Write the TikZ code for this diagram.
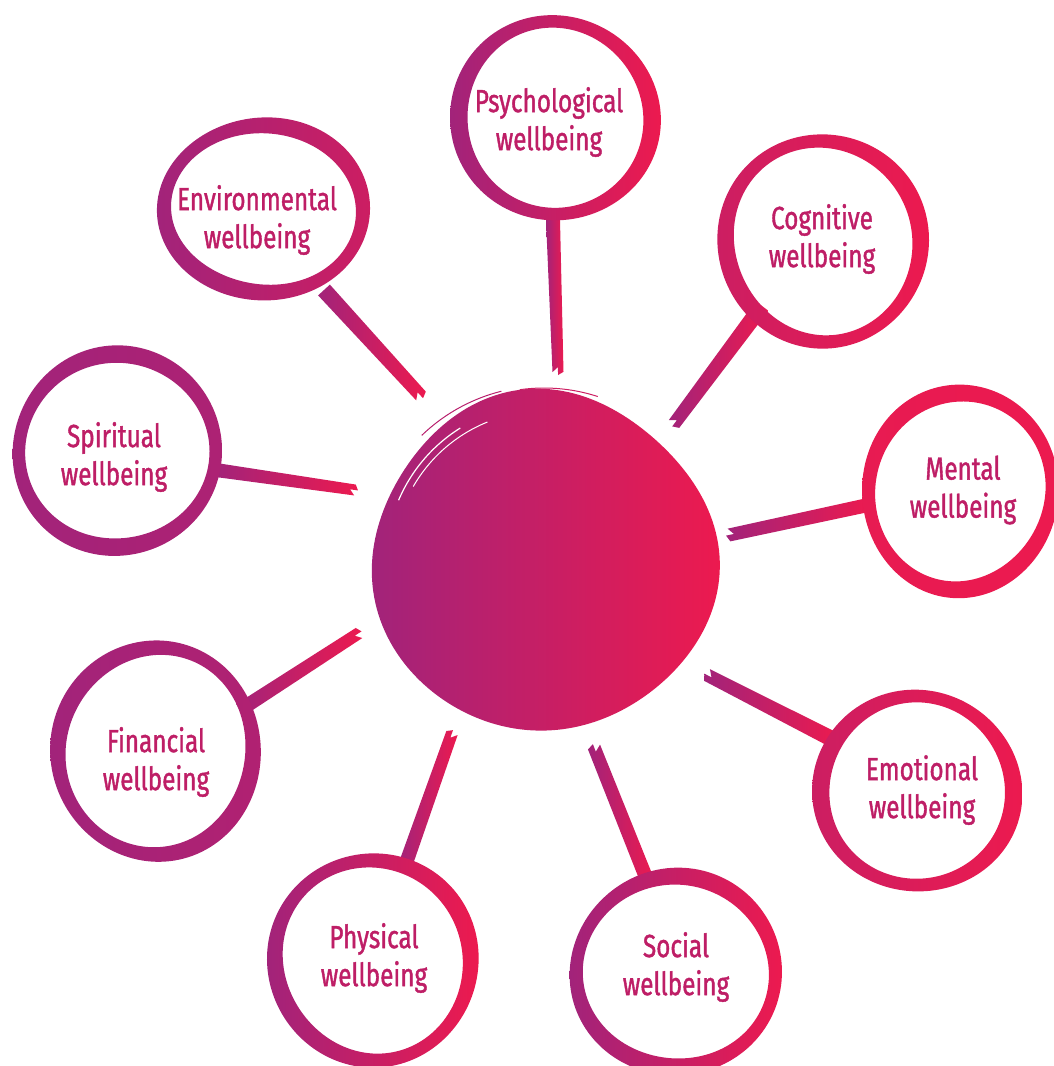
\documentclass[tikz,border=0pt]{standalone}
\usepackage{fontspec}
\newfontfamily\hand[FakeStretch=0.76,FakeBold=1.2]{Fira Sans}
\usetikzlibrary{calc}
\definecolor{cpurple}{RGB}{162,35,122}
\definecolor{cpink}{RGB}{236,26,79}
\definecolor{cmid}{RGB}{204,30,98}
\definecolor{ctext}{RGB}{190,30,102}
\tikzset{
  lbl/.style={font=\hand\fontsize{32}{38}\selectfont, text=ctext, align=center, inner sep=0pt},
}
% ring: cx cy Rx Ry phase leftcolor rightcolor
\newcommand\wring[7]{%
  \shade[even odd rule,left color=#6,right color=#7]
  plot[domain=0:360,samples=145,variable=\t]
  ({#1+(1+0.008*sin(2*\t+#5)+0.005*sin(3*\t+2*#5))*#3*cos(\t)},
   {#2+(1+0.008*sin(2*\t+#5)+0.005*sin(3*\t+2*#5))*#4*sin(\t)}) -- cycle
  plot[domain=0:360,samples=145,variable=\t]
  ({#1+((1+0.008*sin(2*\t+#5)+0.005*sin(3*\t+2*#5))*#3-15-2.5*sin(2*\t+#5+60))*cos(\t)},
   {#2+((1+0.008*sin(2*\t+#5)+0.005*sin(3*\t+2*#5))*#4-15-2.5*sin(2*\t+#5+60))*sin(\t)}) -- cycle;}
% brush connector: from, to, half width start, half width end
\newcommand\brush[4]{%
  \shade[left color=cpurple,right color=cpink]
  ($(#1)!#3!90:(#2)$) -- ($(#2)!#4!-90:(#1)$) -- ($(#2)!-3pt!(#1)$)
  -- ($(#2)!5pt!(#1)$) -- ($(#2)!#4!90:(#1)$) -- ($(#1)!#3!-90:(#2)$) -- cycle;}
\begin{document}
\begin{tikzpicture}[x=1pt,y=-1pt]
\useasboundingbox (0,0) rectangle (1054,1066);
\clip (0,0) rectangle (1054,1066);
% central blob
\coordinate (hub) at (544,562);
\shade[left color=cpurple,middle color=cmid,right color=cpink]
  plot[domain=0:360,samples=181,variable=\t]
  ({544+(172+2*cos(4*\t+20)+3*sin(3*\t+40))*cos(\t)},
   {562+(169+2*cos(4*\t+20)+3*sin(3*\t+40))*sin(\t)}) -- cycle;
\draw[white,line width=1.2pt] plot[domain=203:238,samples=30,variable=\t]
  ({544+158*cos(\t)},{562+158*sin(\t)});
\draw[white,line width=1pt] plot[domain=210:248,samples=30,variable=\t]
  ({544+151*cos(\t)},{562+151*sin(\t)});
\draw[cpurple!70!cpink,line width=1pt] plot[domain=226:256,samples=30,variable=\t]
  ({544+176*cos(\t)},{562+176*sin(\t)});
\draw[cmid,line width=1pt] plot[domain=262:288,samples=30,variable=\t]
  ({544+174*cos(\t)},{562+174*sin(\t)});
% connector end points
\coordinate (psyA) at (553,220); \coordinate (psyB) at (558,372);
\coordinate (envA) at (324,290); \coordinate (envB) at (421,396);
\coordinate (cogA) at (762,306); \coordinate (cogB) at (674,424);
\coordinate (spiA) at (216,470); \coordinate (spiB) at (355,490);
\coordinate (menA) at (868,505); \coordinate (menB) at (729,535);
\coordinate (finA) at (240,710); \coordinate (finB) at (359,633);
\coordinate (emoA) at (834,740); \coordinate (emoB) at (707,675);
\coordinate (phyA) at (405,866); \coordinate (phyB) at (452,733);
\coordinate (socA) at (647,880); \coordinate (socB) at (594,747);
\brush{psyA}{psyB}{7pt}{5.5pt}
\brush{envA}{envB}{8pt}{6.5pt}
\brush{cogA}{cogB}{8pt}{6.5pt}
\brush{spiA}{spiB}{7pt}{5.5pt}
\brush{menA}{menB}{7pt}{6.5pt}
\brush{finA}{finB}{7pt}{6pt}
\brush{emoA}{emoB}{8pt}{6.5pt}
\brush{phyA}{phyB}{7pt}{6pt}
\brush{socA}{socB}{7pt}{6.5pt}
% rings
\wring{555}{118}{105}{103}{30}{cpurple}{cpink}
\wring{823}{241}{105}{108}{80}{cmid}{cpink}
\wring{264}{209}{106}{92}{140}{cpurple}{cmid}
\wring{117}{451}{105}{105}{200}{cpurple}{cpurple!85!cpink}
\wring{960}{491}{99}{106}{250}{cpink!85!cmid}{cpink}
\wring{156}{751}{106}{110}{310}{cpurple}{cpurple!80!cpink}
\wring{917}{791}{105}{101}{10}{cmid}{cpink}
\wring{373}{960}{105}{108}{100}{cpurple}{cpink}
\wring{676}{972}{106}{104}{170}{cpurple}{cpink}
% labels
\node[lbl] (psy) at (549,122) {Psychological\\wellbeing};
\node[lbl] (env) at (257,220) {Environmental\\wellbeing};
\node[lbl] (cog) at (822,239) {Cognitive\\wellbeing};
\node[lbl] (spi) at (114,457) {Spiritual\\wellbeing};
\node[lbl] (men) at (963,490) {Mental\\wellbeing};
\node[lbl] (fin) at (156,762) {Financial\\wellbeing};
\node[lbl] (emo) at (922,790) {Emotional\\wellbeing};
\node[lbl] (phy) at (374,958) {Physical\\wellbeing};
\node[lbl] (soc) at (676,967) {Social\\wellbeing};
\end{tikzpicture}
\end{document}
